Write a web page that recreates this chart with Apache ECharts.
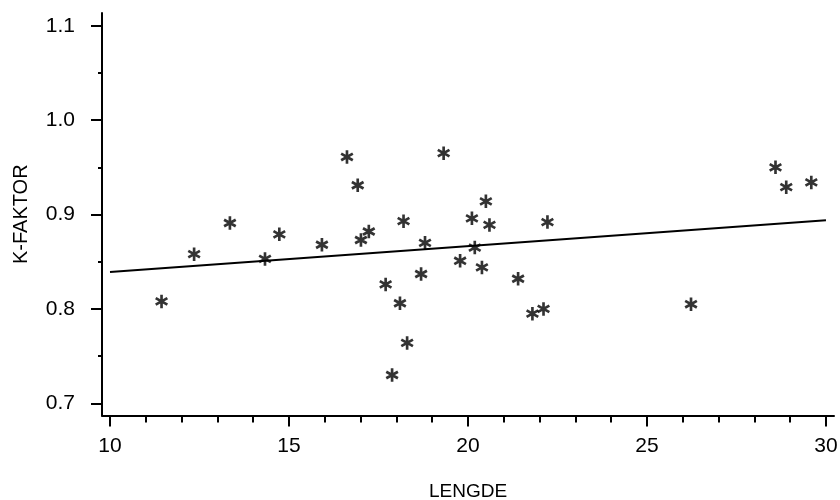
<!DOCTYPE html>
<html>
<head>
<meta charset="utf-8">
<script src="https://cdn.jsdelivr.net/npm/echarts@6/dist/echarts.min.js"></script>
<style>
html,body{margin:0;padding:0;background:#fff;}
#chart{width:840px;height:500px;}
</style>
</head>
<body>
<div id="chart"></div>
<script>
// ---- data ----
var lengde = [11.44, 12.35, 13.35, 14.33, 14.73, 15.92, 16.62, 16.92, 17.01, 17.23,
              17.70, 17.88, 18.10, 18.20, 18.30, 18.69, 18.80, 19.32, 19.78, 20.11,
              20.19, 20.39, 20.50, 20.60, 21.40, 22.22, 21.80, 22.11, 26.23, 28.59,
              28.89, 29.59];
var kfaktor = [0.808, 0.858, 0.891, 0.853, 0.879, 0.868, 0.961, 0.931, 0.873, 0.882,
               0.826, 0.730, 0.806, 0.893, 0.764, 0.837, 0.870, 0.965, 0.851, 0.896,
               0.865, 0.844, 0.914, 0.889, 0.832, 0.892, 0.795, 0.800, 0.805, 0.950,
               0.929, 0.934];
var fitX = [10, 30];
var fitY = [0.839, 0.894];
var xMajor = [10, 15, 20, 25, 30];
var xMinor = [11,12,13,14,16,17,18,19,21,22,23,24,26,27,28,29];
var yMajor = [0.7, 0.8, 0.9, 1.0, 1.1];
var yMinor = [0.75, 0.85, 0.95, 1.05];
var xName = 'LENGDE';
var yName = 'K-FAKTOR';

var points = lengde.map(function (x, i) { return [x, kfaktor[i]]; });
var fitLine = fitX.map(function (x, i) { return [x, fitY[i]]; });

var star = 'path://M12 0 L8 0 L8 20 L12 20 Z ' +
  'M19.76 6.9 L17.76 3.44 L0.24 13.1 L2.24 16.56 Z ' +
  'M17.76 16.56 L19.76 13.1 L2.24 3.44 L0.24 6.9 Z';

var FONT = '"Liberation Sans", Arial, sans-serif';
var black = '#000';

var chart = echarts.init(document.getElementById('chart'), null, {renderer: 'canvas'});
chart.setOption({
  animation: false,
  backgroundColor: '#fff',
  grid: {left: 102, top: 13, width: 732, height: 402.5, containLabel: false, outerBoundsMode: 'none'},
  xAxis: [{
    type: 'value', min: 9.777, max: 30.224,
    name: xName, nameLocation: 'middle', nameGap: 67,
    nameTextStyle: {fontFamily: FONT, fontSize: 19, color: black},
    axisLine: {show: true, onZero: false, lineStyle: {color: black, width: 2}},
    axisTick: {show: true, customValues: xMajor, length: 11, lineStyle: {color: black, width: 2}},
    axisLabel: {customValues: xMajor, margin: 20, fontFamily: FONT, fontSize: 21, color: black},
    splitLine: {show: false}
  }, {
    type: 'value', min: 9.777, max: 30.224, position: 'bottom',
    axisLine: {show: false},
    axisTick: {show: true, customValues: xMinor, length: 7, lineStyle: {color: black, width: 2}},
    axisLabel: {show: false},
    splitLine: {show: false}
  }],
  yAxis: [{
    type: 'value', min: 0.6871, max: 1.1135,
    name: yName, nameLocation: 'middle', nameGap: 71, nameRotate: 90,
    nameTextStyle: {fontFamily: FONT, fontSize: 20, color: black},
    axisLine: {show: true, onZero: false, lineStyle: {color: black, width: 2}},
    axisTick: {show: true, customValues: yMajor, length: 11, lineStyle: {color: black, width: 2}},
    axisLabel: {customValues: yMajor, margin: 27, fontFamily: FONT, fontSize: 21, color: black,
      formatter: function (v) { return v.toFixed(1); }},
    splitLine: {show: false}
  }, {
    type: 'value', min: 0.6871, max: 1.1135, position: 'left',
    axisLine: {show: false},
    axisTick: {show: true, customValues: yMinor, length: 4, lineStyle: {color: black, width: 2}},
    axisLabel: {show: false},
    splitLine: {show: false}
  }],
  series: [{
    type: 'line', xAxisIndex: 0, yAxisIndex: 0,
    data: fitLine, symbol: 'none',
    lineStyle: {color: black, width: 2}
  }, {
    type: 'scatter', xAxisIndex: 0, yAxisIndex: 0,
    data: points, symbol: star, symbolSize: [13, 13.5],
    itemStyle: {color: black}
  }]
});
</script>
</body>
</html>
